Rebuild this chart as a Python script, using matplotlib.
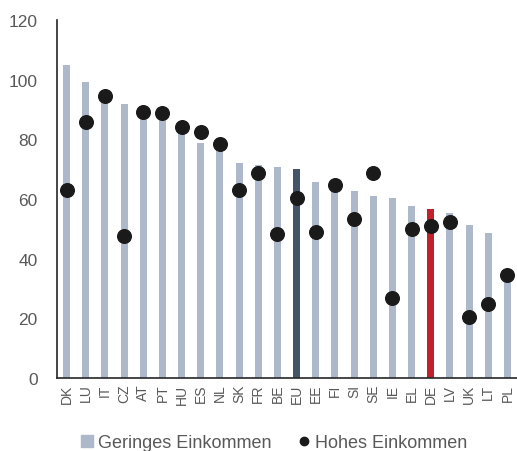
import matplotlib
matplotlib.use("Agg")
import matplotlib.pyplot as plt
from matplotlib.lines import Line2D

countries = ["DK","LU","IT","CZ","AT","PT","HU","ES","NL","SK","FR","BE","EU","EE","FI","SI","SE","IE","EL","DE","LV","UK","LT","PL"]
geringes = [105,99.2,92.4,91.8,88,88,83,78.8,77,71.9,71.3,70.7,70.2,65.6,64,62.7,61.0,60.4,57.7,56.5,55.4,51.4,48.5,33.4]
hohes = [63.1,85.8,94.4,47.7,89.3,88.7,84.1,82.5,78.4,63.1,68.8,48.3,60.2,48.8,64.8,53.4,68.8,26.7,50.0,51.1,52.3,20.3,24.9,34.6]

plt.rcParams['font.family'] = ['Liberation Sans', 'DejaVu Sans']
fig = plt.figure(figsize=(5.17, 4.52), dpi=100)
ax = fig.add_axes([57/517, 1-379/452, 1-57/517, 358/452])

colors = []
for c in countries:
    if c == "EU":
        colors.append("#44546A")
    elif c == "DE":
        colors.append("#C0212B")
    else:
        colors.append("#ADB9CA")
x = list(range(len(countries)))
ax.bar(x, geringes, width=0.37, color=colors, zorder=2)
ax.plot(x, hohes, 'o', color="#1a1a1a", markersize=9.8, zorder=3)

ax.set_xlim(-0.5, len(countries)-0.5)
ax.set_ylim(0, 120)
ax.set_yticks(range(0, 121, 20))
ax.set_xticks(x)
ax.set_xticklabels(countries, rotation=90, fontsize=10, color="#595959")
ax.tick_params(axis='y', labelsize=12.5, labelcolor="#595959", length=0, pad=14)
ax.tick_params(axis='x', length=0, pad=4)
for s in ['top', 'right']:
    ax.spines[s].set_visible(False)
ax.spines['left'].set_color("#262626")
ax.spines['bottom'].set_color("#262626")
ax.spines['left'].set_linewidth(1.2)
ax.spines['bottom'].set_linewidth(1.2)

handles = [Line2D([], [], marker='s', color="#ADB9CA", linestyle='None', markersize=9),
           Line2D([], [], marker='o', color="#1a1a1a", linestyle='None', markersize=6)]
fig.legend(handles, ["Geringes Einkommen", "Hohes Einkommen"], loc='center',
           bbox_to_anchor=(0.525, 1-444/452), ncol=2, frameon=False, fontsize=13,
           labelcolor="#595959", handletextpad=0.0, handlelength=1.2, columnspacing=1.2)

fig.savefig("out.png", dpi=100)
